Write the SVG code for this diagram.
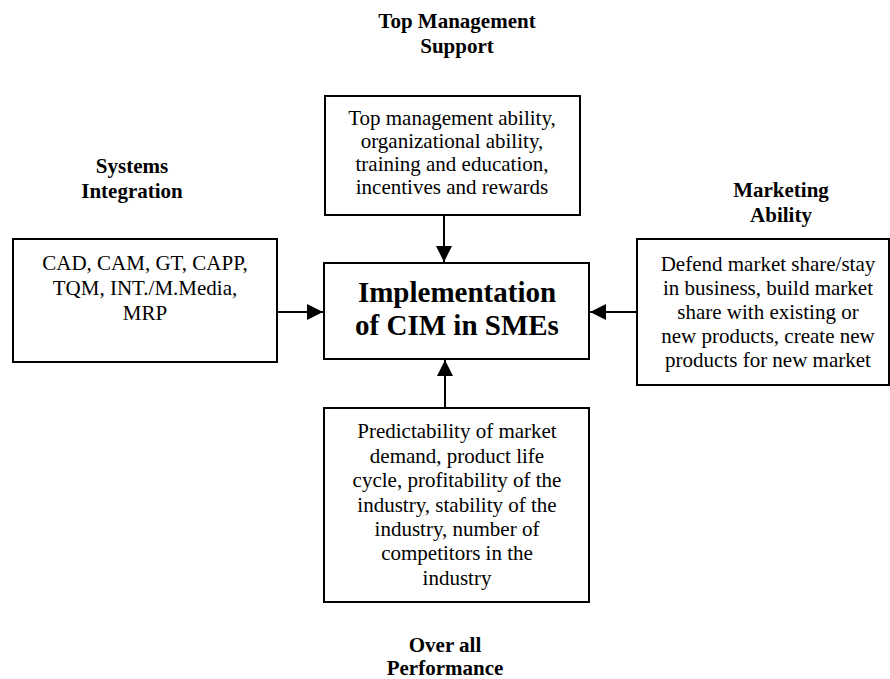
<svg xmlns="http://www.w3.org/2000/svg" width="890" height="679" viewBox="0 0 890 679">
<style>
text{font-family:"Liberation Serif","Times New Roman",Times,"DejaVu Serif",serif;text-anchor:middle;fill:#000}
.box{fill:#fff;stroke:#000;stroke-width:2}
.t{font-size:21px}
.h{font-size:21px;font-weight:bold}
.c{font-size:29px;font-weight:bold}
.ln{stroke:#000;stroke-width:2;fill:none}
</style>
<defs>
<marker id="ah" viewBox="0 0 16 16" refX="16" refY="8" markerWidth="16" markerHeight="16" markerUnits="userSpaceOnUse" orient="auto">
<path d="M0,0 L16,8 L0,16 z" fill="#000"/>
</marker>
</defs>
<rect width="890" height="679" fill="#fff"/>
<g id="titles">
<text class="h" x="457" y="28">Top Management</text>
<text class="h" x="457" y="53">Support</text>
<text class="h" x="132" y="173">Systems</text>
<text class="h" x="132" y="198">Integration</text>
<text class="h" x="781" y="197">Marketing</text>
<text class="h" x="781" y="222">Ability</text>
<text class="h" x="445" y="652">Over all</text>
<text class="h" x="445" y="675">Performance</text>
</g>
<g id="top">
<rect class="box" x="325" y="96" width="255" height="119"/>
<text class="t" x="452" y="125">Top management ability,</text>
<text class="t" x="452" y="148">organizational ability,</text>
<text class="t" x="452" y="171">training and education,</text>
<text class="t" x="452" y="194">incentives and rewards</text>
</g>
<g id="left">
<rect class="box" x="13" y="239" width="264" height="123"/>
<text class="t" x="145" y="270">CAD, CAM, GT, CAPP,</text>
<text class="t" x="145" y="295">TQM, INT./M.Media,</text>
<text class="t" x="145" y="320">MRP</text>
</g>
<g id="center">
<rect class="box" x="324" y="263" width="265" height="96"/>
<text class="c" x="457" y="302">Implementation</text>
<text class="c" x="457" y="335">of CIM in SMEs</text>
</g>
<g id="right">
<rect class="box" x="637" y="239" width="252" height="146"/>
<text class="t" x="768" y="271">Defend market share/stay</text>
<text class="t" x="768" y="295">in business, build market</text>
<text class="t" x="768" y="319">share with existing or</text>
<text class="t" x="768" y="343">new products, create new</text>
<text class="t" x="768" y="367">products for new market</text>
</g>
<g id="bottom">
<rect class="box" x="324" y="408" width="265" height="194"/>
<text class="t" x="457" y="438">Predictability of market</text>
<text class="t" x="457" y="463">demand, product life</text>
<text class="t" x="457" y="487">cycle, profitability of the</text>
<text class="t" x="457" y="512">industry, stability of the</text>
<text class="t" x="457" y="536">industry, number of</text>
<text class="t" x="457" y="560">competitors in the</text>
<text class="t" x="457" y="585">industry</text>
</g>
<g id="connectors">
<line class="ln" x1="444" y1="215" x2="444" y2="262" marker-end="url(#ah)"/>
<line class="ln" x1="277" y1="312" x2="323" y2="312" marker-end="url(#ah)"/>
<line class="ln" x1="637" y1="312" x2="590" y2="312" marker-end="url(#ah)"/>
<line class="ln" x1="445" y1="408" x2="445" y2="360" marker-end="url(#ah)"/>
</g>
</svg>
